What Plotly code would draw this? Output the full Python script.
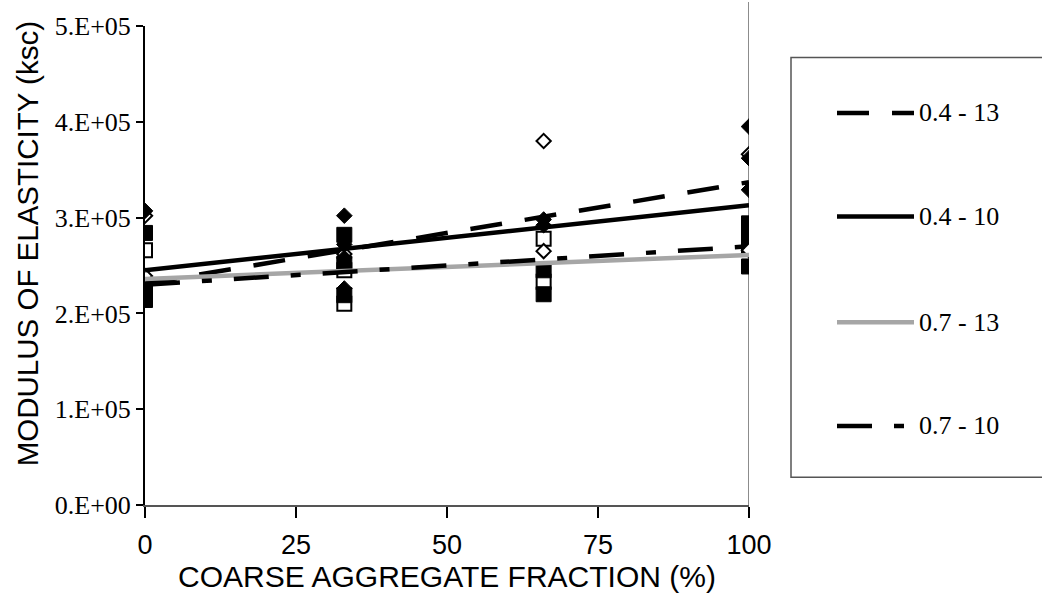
import plotly.graph_objects as go

# ---------------- data (values in ksc) ----------------
fd_x = [0, 33, 33, 33, 33, 66, 66, 100, 100, 100]          # 0.4 - 13 (filled diamonds)
fd_y = [3.07e5, 3.02e5, 2.72e5, 2.58e5, 2.26e5, 2.98e5, 2.92e5, 3.95e5, 3.62e5, 3.29e5]

od_x = [0, 0, 33, 66, 66, 100, 100]                          # 0.4 - 10 (open diamonds)
od_y = [3.02e5, 2.39e5, 2.62e5, 3.80e5, 2.65e5, 3.66e5, 2.66e5]

os_x = [0, 33, 33, 66, 66, 100]                              # 0.7 - 13 (open squares)
os_y = [2.66e5, 2.45e5, 2.10e5, 2.78e5, 2.33e5, 2.70e5]

fs_x = [0, 0, 0, 33, 33, 33, 66, 66, 100, 100, 100, 100]     # 0.7 - 10 (filled squares)
fs_y = [2.84e5, 2.22e5, 2.14e5, 2.82e5, 2.52e5, 2.19e5, 2.45e5, 2.20e5,
        2.94e5, 2.84e5, 2.78e5, 2.49e5]

# linear trend lines (value at x = 0 and x = 100)
trend_x = [0, 100]
trend_04_13 = [2.31e5, 3.37e5]
trend_04_10 = [2.45e5, 3.13e5]
trend_07_13 = [2.36e5, 2.61e5]
trend_07_10 = [2.30e5, 2.70e5]

series_names = ["0.4 - 13", "0.4 - 10", "0.7 - 13", "0.7 - 10"]

x_ticks = [0, 25, 50, 75, 100]
y_ticks = [0, 1e5, 2e5, 3e5, 4e5, 5e5]
y_tick_text = ["0.E+00", "1.E+05", "2.E+05", "3.E+05", "4.E+05", "5.E+05"]

x_title = "COARSE AGGREGATE FRACTION (%)"
y_title = "MODULUS OF ELASTICITY (ksc)"

# ---------------- figure ----------------
SERIF = "Liberation Serif, Times New Roman, serif"
SANS = "Liberation Sans, Arial, sans-serif"

fig = go.Figure()

# plot-area right border (grey)
fig.add_shape(type="line", xref="x", yref="paper", x0=100, x1=100, y0=0, y1=1.05,
              line=dict(color="#8c8c8c", width=2), layer="below")

fig.add_trace(go.Scatter(x=os_x, y=os_y, mode="markers", showlegend=False,
                         marker=dict(symbol="square", size=14, color="white",
                                     line=dict(color="black", width=2))))
fig.add_trace(go.Scatter(x=fs_x, y=fs_y, mode="markers", showlegend=False,
                         marker=dict(symbol="square", size=15, color="black",
                                     line=dict(color="black", width=1))))
fig.add_trace(go.Scatter(x=od_x, y=od_y, mode="markers", showlegend=False,
                         marker=dict(symbol="diamond", size=11, color="white",
                                     line=dict(color="black", width=2))))
fig.add_trace(go.Scatter(x=fd_x, y=fd_y, mode="markers", showlegend=False,
                         marker=dict(symbol="diamond", size=12, color="black",
                                     line=dict(color="black", width=1))))

line_styles = [
    dict(color="black", width=4.5, dash="32px,23px"),
    dict(color="black", width=4.5, dash="solid"),
    dict(color="#a6a6a6", width=4.5, dash="solid"),
    dict(color="black", width=4.5, dash="35px,22px,10px,22px"),
]
for name, yv, ls in zip(series_names,
                        [trend_04_13, trend_04_10, trend_07_13, trend_07_10],
                        line_styles):
    fig.add_trace(go.Scatter(x=trend_x, y=yv, mode="lines", name=name,
                             showlegend=False, line=ls))

# ---------------- custom legend (long line samples like the original) ----------------
L, R, T, B = 145, 749, 20, 505
def px(xp):
    return (xp - L) / (R - L)
def py(yp):
    return (B - yp) / (B - T)

fig.add_shape(type="rect", xref="paper", yref="paper",
              x0=px(791), x1=px(1050), y0=py(477), y1=py(52),
              line=dict(color="#555555", width=1.5), fillcolor="white", layer="below")
legend_rows = [108, 213, 320, 425]
for name, ls, row in zip(series_names, line_styles, legend_rows):
    fig.add_shape(type="line", xref="paper", yref="paper",
                  x0=px(837), x1=px(914), y0=py(row), y1=py(row),
                  line=ls)
    fig.add_annotation(xref="paper", yref="paper", x=px(917), y=py(row),
                       text=name, showarrow=False, xanchor="left", yanchor="middle",
                       font=dict(family=SERIF, size=26, color="black"))

# y-axis title placed like the original
fig.add_annotation(xref="paper", yref="paper", x=px(27), y=py(241),
                   text=y_title, textangle=-90, showarrow=False,
                   xanchor="center", yanchor="middle",
                   font=dict(family=SANS, size=29.5, color="black"))

fig.update_layout(
    width=1042, height=612,
    margin=dict(l=L, r=1042 - R, t=T, b=612 - B),
    paper_bgcolor="white", plot_bgcolor="white",
    showlegend=False,
    xaxis=dict(range=[0, 100], tickvals=x_ticks, ticks="outside", ticklen=11,
               tickwidth=1.5, tickcolor="black", showline=True, linecolor="#555555",
               linewidth=2, showgrid=False, zeroline=False,
               ticklabelstandoff=4,
               tickfont=dict(family=SANS, size=27, color="black"),
               title=dict(text=x_title, font=dict(family=SANS, size=30, color="black"),
                          standoff=6)),
    yaxis=dict(range=[0, 5e5], tickvals=y_ticks, ticktext=y_tick_text,
               ticks="outside", ticklen=7, tickwidth=1.5, tickcolor="black",
               showline=True, linecolor="black", linewidth=2, showgrid=False,
               zeroline=False,
               tickfont=dict(family=SERIF, size=26, color="black")),
)

fig.write_html("out.html")
